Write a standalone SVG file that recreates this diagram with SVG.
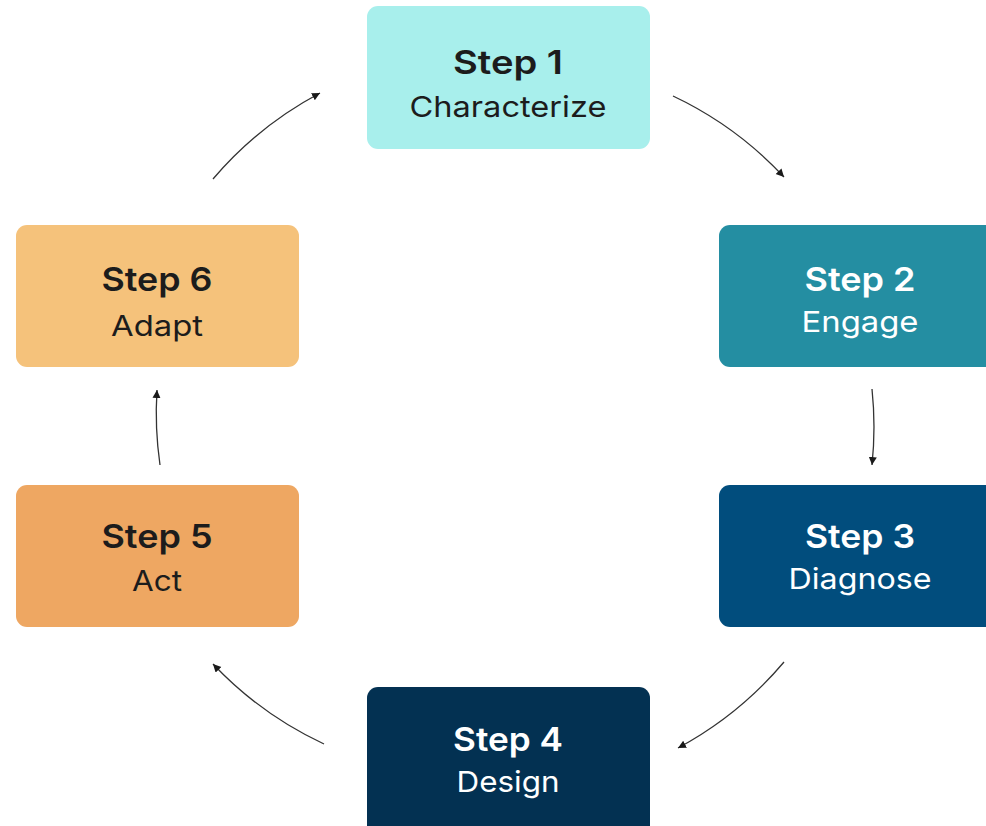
<svg xmlns="http://www.w3.org/2000/svg" width="986" height="826" viewBox="0 0 986 826">
<defs>
<marker id="ah" markerUnits="userSpaceOnUse" markerWidth="10" markerHeight="10" refX="8" refY="4" orient="auto">
<path d="M0,0 L8,4 L0,8 Z" fill="#1a1a1a"/>
</marker>
<style>
.box{stroke:none}
.t1{font-family:Inter,"Liberation Sans",sans-serif;font-weight:600;font-size:33px;text-anchor:middle}
.t2{font-family:Inter,"Liberation Sans",sans-serif;font-weight:400;font-size:29px;text-anchor:middle}
.dark{fill:#1c1c1c}
.light{fill:#ffffff}
.conn{fill:none;stroke:#333333;stroke-width:1.3;marker-end:url(#ah)}
</style>
</defs>
<rect width="986" height="826" fill="#ffffff"/>
<g id="connectors">
<path class="conn" d="M673,96 A365,365 0 0 1 784,177"/>
<path class="conn" d="M872,389 A365,365 0 0 1 872,465"/>
<path class="conn" d="M784,662 A365,365 0 0 1 678,748"/>
<path class="conn" d="M324,744 A365,365 0 0 1 213,664"/>
<path class="conn" d="M160,465 A365,365 0 0 1 157,390"/>
<path class="conn" d="M213,179 A365,365 0 0 1 320,93"/>
</g>
<g id="step1">
<rect class="box" x="367" y="6" width="283" height="143" rx="11" fill="#A8EFEC"/>
<text class="t1 dark" x="508" y="74" textLength="110" lengthAdjust="spacingAndGlyphs">Step 1</text>
<text class="t2 dark" x="508" y="117" textLength="197" lengthAdjust="spacingAndGlyphs">Characterize</text>
</g>
<g id="step2">
<rect class="box" x="719" y="225" width="283" height="142" rx="11" fill="#248EA2"/>
<text class="t1 light" x="860" y="291" textLength="111" lengthAdjust="spacingAndGlyphs">Step 2</text>
<text class="t2 light" x="860" y="332" textLength="117" lengthAdjust="spacingAndGlyphs">Engage</text>
</g>
<g id="step3">
<rect class="box" x="719" y="485" width="283" height="142" rx="11" fill="#014D7D"/>
<text class="t1 light" x="860" y="548" textLength="110" lengthAdjust="spacingAndGlyphs">Step 3</text>
<text class="t2 light" x="860" y="589" textLength="143" lengthAdjust="spacingAndGlyphs">Diagnose</text>
</g>
<g id="step4">
<rect class="box" x="367" y="687" width="283" height="150" rx="11" fill="#033152"/>
<text class="t1 light" x="508" y="751" textLength="110" lengthAdjust="spacingAndGlyphs">Step 4</text>
<text class="t2 light" x="508" y="792" textLength="103" lengthAdjust="spacingAndGlyphs">Design</text>
</g>
<g id="step5">
<rect class="box" x="16" y="485" width="283" height="142" rx="11" fill="#EEA762"/>
<text class="t1 dark" x="157" y="548" textLength="111" lengthAdjust="spacingAndGlyphs">Step 5</text>
<text class="t2 dark" x="157" y="591" textLength="50" lengthAdjust="spacingAndGlyphs">Act</text>
</g>
<g id="step6">
<rect class="box" x="16" y="225" width="283" height="142" rx="11" fill="#F5C27B"/>
<text class="t1 dark" x="157" y="291" textLength="111" lengthAdjust="spacingAndGlyphs">Step 6</text>
<text class="t2 dark" x="157" y="336" textLength="92" lengthAdjust="spacingAndGlyphs">Adapt</text>
</g>
</svg>
